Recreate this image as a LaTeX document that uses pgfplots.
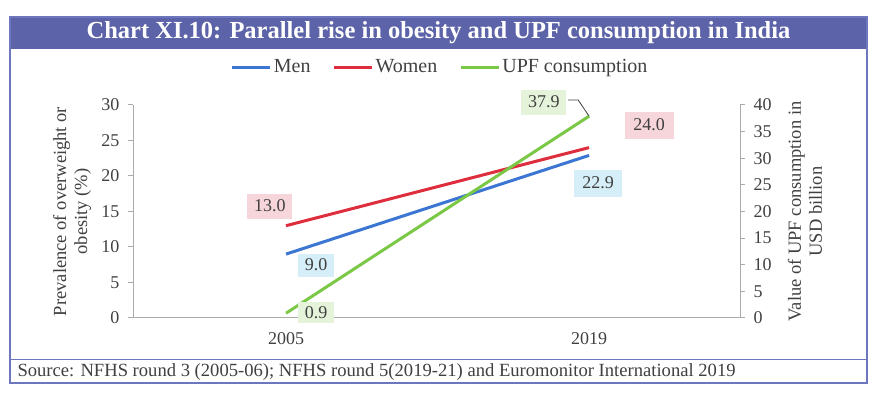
\documentclass[border=0pt]{standalone}
\usepackage{pgfplots}
\pgfplotsset{compat=1.18}
\usepackage{fontspec}
\setmainfont{Liberation Serif}
\definecolor{band}{RGB}{93,99,168}
\definecolor{frame}{RGB}{110,118,190}
\definecolor{axgray}{RGB}{170,170,170}
\definecolor{txt}{RGB}{64,64,64}
\definecolor{menc}{RGB}{58,118,210}
\definecolor{womc}{RGB}{222,45,60}
\definecolor{upfc}{RGB}{122,200,70}
\definecolor{menbox}{RGB}{214,238,247}
\definecolor{wombox}{RGB}{246,214,218}
\definecolor{upfbox}{RGB}{229,243,218}
\begin{document}
\begin{tikzpicture}[x=1pt,y=1pt]
\path (0,0) rectangle (878,398);
% frame and title band
\fill[band] (10,349) rectangle (867,381);
\draw[frame, line width=1.2pt] (10,15) rectangle (867,381);
\draw[frame, line width=1pt] (10,38) -- (867,38);
\node[text=white, font=\fontsize{24.5}{28}\selectfont\bfseries] at (438.5,365) {Chart XI.10: Parallel rise in obesity and UPF consumption in India};
\node[anchor=west, text=txt, font=\fontsize{18.6}{20}\selectfont] at (14,26) {Source: NFHS round 3 (2005-06); NFHS round 5(2019-21) and Euromonitor International 2019};

\begin{axis}[
  at={(133pt,80pt)}, anchor=south west,
  scale only axis, width=607pt, height=213pt,
  xmin=-0.505, xmax=1.498, ymin=0, ymax=30,
  xtick={0,1}, xticklabels={2005,2019},
  ytick={0,5,...,30},
  axis y line*=left, axis x line*=bottom,
  axis line style={draw=axgray, line width=1pt, -},
  major x tick style={draw=none},
  major y tick style={draw=axgray, line width=1pt},
  tick align=outside, major tick length=5pt,
  /pgf/number format/assume math mode=true,
  ticklabel style={text=txt, font=\fontsize{18}{20}\selectfont},
  xticklabel style={yshift=-6pt},
  yticklabel style={xshift=-5pt},
  ylabel={Prevalence of overweight or\\obesity (\%)},
  ylabel style={at={(axis description cs:-0.1005,0.5)}, anchor=center, rotate=0, align=center, text=txt, font=\fontsize{18.5}{21}\selectfont},
  clip=false,
  legend style={at={(axis description cs:0.506,1.178)}, anchor=center, draw=none, fill=none,
    font=\fontsize{20}{22}\selectfont, text=txt, legend columns=3,
    /tikz/every even column/.append style={column sep=20pt}},
  legend image code/.code={\draw[#1, line width=3pt] (0pt,0pt) -- (38pt,0pt);},
]
\addplot[menc, line width=3pt] coordinates {(0,9.0) (1,22.9)};
\addlegendentry{Men}
\addplot[womc, line width=3pt] coordinates {(0,13.0) (1,24.0)};
\addlegendentry{Women}
\addlegendimage{upfc, line width=3pt}
\addlegendentry{UPF consumption}
\node[fill=menbox, text=txt, font=\fontsize{18}{20}\selectfont, minimum width=36pt, minimum height=23pt] at (axis cs:0.099,7.46) {9.0};
\node[fill=wombox, text=txt, font=\fontsize{18}{20}\selectfont, minimum width=45pt, minimum height=25pt] at (axis cs:-0.053,15.77) {13.0};
\node[fill=menbox, text=txt, font=\fontsize{18}{20}\selectfont, minimum width=48pt, minimum height=27pt] at (axis cs:1.03,19.01) {22.9};
\node[fill=wombox, text=txt, font=\fontsize{18}{20}\selectfont, minimum width=49pt, minimum height=27pt] at (axis cs:1.198,27.18) {24.0};
\end{axis}

\begin{axis}[
  at={(133pt,80pt)}, anchor=south west,
  scale only axis, width=607pt, height=213pt,
  xmin=-0.505, xmax=1.498, ymin=0, ymax=40,
  ytick={0,5,...,40},
  axis y line*=right, axis x line=none,
  axis line style={draw=axgray, line width=1pt, -},
  major y tick style={draw=axgray, line width=1pt},
  tick align=outside, major tick length=5pt,
  /pgf/number format/assume math mode=true,
  ticklabel style={text=txt, font=\fontsize{18}{20}\selectfont},
  yticklabel style={xshift=5pt},
  ylabel={Value of UPF consumption in\\USD billion},
  ylabel style={at={(axis description cs:1.107,0.5)}, anchor=center, rotate=0, align=center, text=txt, font=\fontsize{18.5}{21}\selectfont},
  clip=false,
]
\addplot[upfc, line width=3pt] coordinates {(0,0.9) (1,37.9)};
\node[fill=upfbox, text=txt, font=\fontsize{18}{20}\selectfont, minimum width=36pt, minimum height=21pt] at (axis cs:0.099,0.94) {0.9};
\node[fill=upfbox, text=txt, font=\fontsize{18}{20}\selectfont, minimum width=45pt, minimum height=25pt] at (axis cs:0.851,40.56) {37.9};
\draw[txt, line width=0.8pt] (axis cs:0.931,40.94) -- (axis cs:0.964,40.94) -- (axis cs:1,37.9);
\end{axis}
\end{tikzpicture}
\end{document}
